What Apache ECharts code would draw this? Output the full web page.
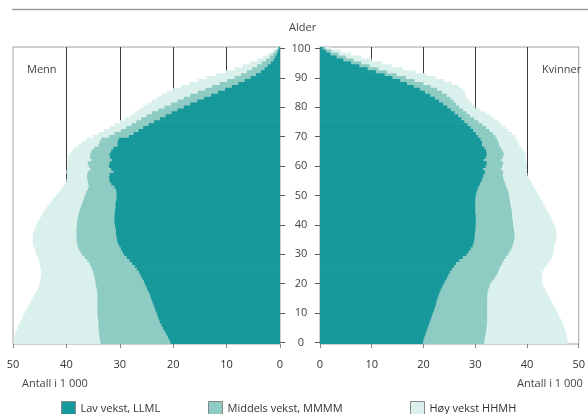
<!DOCTYPE html>
<html><head><meta charset="utf-8">
<script src="https://cdn.jsdelivr.net/npm/echarts@6/dist/echarts.min.js"></script>
<style>html,body{margin:0;padding:0;background:#fff}#c{width:588px;height:414px}</style>
</head><body><div id="c"></div>
<script>
// Ages 0..100 (index = age)
const ages = [];
for (let a = 0; a <= 100; a++) ages.push(String(a));
const xTicks = [0, 10, 20, 30, 40, 50];
const seriesNames = ['Lav vekst, LLML', 'Middels vekst, MMMM', 'Høy vekst HHMH'];

// Men (1 000), age 0..100
const menLow = [
20.5,20.7,21.0,21.3,21.6,21.9,22.2,22.5,22.7,22.9,
23.1,23.3,23.5,23.7,23.9,24.1,24.3,24.5,24.8,25.0,
25.3,25.5,25.8,26.1,26.4,26.8,27.2,27.7,28.2,28.7,
29.2,29.5,29.8,30.1,30.4,30.5,30.6,30.7,30.7,30.8,
30.9,31.0,31.0,31.0,30.9,30.9,30.8,30.8,30.7,30.6,
30.6,30.6,30.7,31.0,31.6,31.9,32.0,31.9,31.2,31.6,
32.0,31.9,31.4,31.8,31.9,31.6,31.2,30.4,30.4,30.2,
28.3,27.4,26.5,25.6,24.6,23.6,22.5,21.4,20.3,19.2,
18.0,16.8,15.5,14.2,12.9,11.6,10.3,9.0,7.8,6.6,
5.5,4.5,3.6,2.9,2.3,1.7,1.2,0.9,0.6,0.4,0.2];
const menMid = [
33.6,33.7,33.8,33.9,33.9,34.0,34.0,34.0,34.1,34.1,
34.2,34.2,34.2,34.2,34.2,34.2,34.2,34.2,34.3,34.4,
34.5,34.6,34.7,34.8,35.0,35.2,35.4,35.7,36.1,36.6,
37.1,37.4,37.7,37.9,38.0,38.1,38.1,38.1,38.1,38.1,
38.0,38.0,37.9,37.8,37.6,37.5,37.3,37.1,36.9,36.7,
36.5,36.3,36.0,35.8,35.9,36.0,36.1,36.1,35.9,35.5,
35.8,36.0,35.3,35.6,35.5,35.3,34.8,34.0,33.8,33.5,
32.0,31.0,29.8,28.8,27.8,26.9,26.0,25.0,24.0,22.8,
21.6,20.4,19.2,18.0,16.8,15.4,14.0,12.7,11.3,9.9,
8.5,7.3,6.2,5.2,4.3,3.4,2.6,1.9,1.3,0.8,0.4];
const menHigh = [
49.9,49.9,49.8,49.6,49.4,49.1,48.9,48.6,48.3,48.1,
47.8,47.5,47.2,46.9,46.6,46.3,46.0,45.7,45.4,45.2,
45.0,44.9,44.8,44.7,44.7,44.8,44.9,45.0,45.2,45.4,
45.6,45.8,46.0,46.2,46.3,46.3,46.3,46.2,46.0,45.8,
45.6,45.3,45.0,44.7,44.4,44.0,43.6,43.2,42.8,42.4,
41.9,41.4,41.0,40.6,40.3,40.0,39.9,39.9,40.0,39.9,
39.8,39.8,39.6,39.7,39.4,39.0,38.5,37.8,37.0,36.2,
35.0,34.0,33.0,32.0,31.0,30.0,29.0,28.0,27.2,26.4,
25.6,24.8,24.0,23.1,22.2,21.2,20.0,18.5,17.0,15.4,
13.8,12.0,10.2,8.5,7.0,5.6,4.3,3.2,2.2,1.3,0.6];

// Women (1 000), age 0..100
const womenLow = [
19.9,20.0,20.2,20.4,20.6,20.8,21.0,21.2,21.4,21.6,
21.8,22.0,22.2,22.4,22.5,22.7,22.9,23.1,23.3,23.6,
23.9,24.2,24.5,24.8,25.1,25.5,25.9,26.3,26.9,27.6,
28.3,28.7,29.1,29.5,29.7,29.8,29.9,29.9,30.0,30.0,
30.1,30.1,30.1,30.1,30.0,30.0,30.0,30.0,30.0,30.0,
30.1,30.2,30.4,30.6,30.9,31.2,31.4,31.6,31.9,31.5,
32.0,32.2,31.6,32.0,32.2,32.1,31.8,31.3,31.3,31.0,
30.5,30.1,29.6,29.1,28.5,27.9,27.3,26.7,26.0,25.3,
24.6,23.8,23.0,22.2,21.3,20.3,19.3,18.1,16.8,15.5,
14.0,12.5,10.8,9.2,7.6,6.0,4.5,3.2,2.0,1.2,0.5];
const womenMid = [
31.7,31.8,31.9,32.0,32.1,32.2,32.2,32.3,32.3,32.3,
32.3,32.3,32.3,32.3,32.3,32.3,32.3,32.4,32.5,32.7,
32.9,33.3,33.7,34.1,34.4,34.6,34.9,35.2,35.5,35.9,
36.3,36.6,37.0,37.2,37.4,37.5,37.6,37.6,37.5,37.4,
37.3,37.3,37.2,37.1,37.1,37.0,36.9,36.8,36.7,36.6,
36.5,36.4,36.2,36.0,35.8,35.6,35.4,35.3,35.4,35.0,
35.2,35.4,35.0,35.3,35.5,35.3,35.0,34.6,34.5,34.2,
33.9,33.4,32.8,32.1,31.4,30.6,29.8,29.0,28.3,27.6,
26.9,26.3,25.8,25.2,24.5,23.6,22.6,21.4,20.0,18.3,
16.6,14.8,13.0,11.3,9.6,8.0,6.5,5.0,3.6,2.2,1.0];
const womenHigh = [
47.8,47.8,47.7,47.6,47.4,47.2,47.0,46.8,46.5,46.2,
45.9,45.6,45.3,45.0,44.7,44.4,44.1,43.8,43.5,43.2,
43.0,42.9,42.9,42.9,43.0,43.3,43.7,44.1,44.5,44.8,
45.0,45.1,45.2,45.3,45.4,45.6,45.7,45.7,45.6,45.5,
45.3,45.0,44.7,44.4,44.1,43.8,43.5,43.2,42.9,42.6,
42.3,42.0,41.6,41.3,40.9,40.6,40.3,40.1,40.0,39.9,
40.0,40.0,39.7,39.8,39.7,39.4,39.0,38.5,38.3,38.0,
37.6,37.1,36.5,35.8,35.1,34.5,33.8,33.0,32.0,31.0,
30.0,29.4,28.8,28.3,28.2,28.0,27.5,26.8,25.5,24.0,
22.5,20.5,18.5,16.0,14.0,12.0,10.0,8.0,6.0,4.0,2.0];

const colors = ['#17989a', '#8ecbc3', '#daf0ec'];
const font = 'Open Sans';
const tickEvery10 = function (i) { return i % 10 === 0; };

const chart = echarts.init(document.getElementById('c'), null, {renderer: 'canvas'});

function bar(name, data, axisIdx, color) {
  return {
    name: name, type: 'bar', xAxisIndex: axisIdx, yAxisIndex: axisIdx,
    data: data, barGap: '-100%', barWidth: 3.6,
    itemStyle: {color: color},
    emphasis: {disabled: true}, animation: false, silent: true
  };
}

const xAxisCommon = {
  type: 'value', min: xTicks[0], max: xTicks[xTicks.length - 1], interval: 10,
  axisLine: {show: false},
  axisTick: {show: true, length: 4, lineStyle: {color: '#888'}},
  axisLabel: {color: '#333', fontSize: 11, fontFamily: font, margin: 15},
  splitLine: {show: true, showMinLine: false, showMaxLine: false, lineStyle: {color: '#3a3a3a', width: 1}}
};

const option = {
  animation: false,
  backgroundColor: '#fff',
  grid: [
    {left: 13, width: 267, top: 47, height: 297, show: true, borderColor: '#a0a0a0', borderWidth: 1, backgroundColor: 'transparent'},
    {left: 320, width: 266, top: 47, height: 297, show: true, borderColor: '#a0a0a0', borderWidth: 1, backgroundColor: 'transparent'}
  ],
  xAxis: [
    Object.assign({}, xAxisCommon, {gridIndex: 0, inverse: true}),
    Object.assign({}, xAxisCommon, {gridIndex: 1})
  ],
  yAxis: [
    {type: 'category', gridIndex: 0, data: ages, position: 'right',
     axisLine: {show: false},
     axisTick: {show: true, interval: tickEvery10, alignWithLabel: true, length: 5, lineStyle: {color: '#555'}},
     axisLabel: {interval: tickEvery10, align: 'center', margin: 21, color: '#444', fontSize: 11, fontFamily: font},
     splitLine: {show: false}},
    {type: 'category', gridIndex: 1, data: ages, position: 'left',
     axisLine: {show: false},
     axisTick: {show: true, interval: tickEvery10, alignWithLabel: true, length: 5, lineStyle: {color: '#555'}},
     axisLabel: {show: false},
     splitLine: {show: false}}
  ],
  legend: [
    {data: [seriesNames[0]], left: 61, top: 401},
    {data: [seriesNames[1]], left: 208, top: 401},
    {data: [seriesNames[2]], left: 410, top: 401}
  ].map(function (l) {
    return Object.assign(l, {itemWidth: 14, itemHeight: 14, itemGap: 6, padding: 0, icon: 'rect',
      itemStyle: {borderColor: '#888', borderWidth: 1},
      textStyle: {color: '#333', fontSize: 11, fontFamily: font}, selectedMode: false});
  }),
  graphic: [
    {type: 'line', shape: {x1: 12, y1: 9.5, x2: 588, y2: 9.5}, style: {stroke: '#9a9a9a', lineWidth: 1.5}},
    {type: 'text', left: 289, top: 22, style: {text: 'Alder', fill: '#444', font: '11px "Open Sans"'}},
    {type: 'text', left: 27, top: 64, style: {text: 'Menn', fill: '#444', font: '11px "Open Sans"'}},
    {type: 'text', left: 542, top: 64, style: {text: 'Kvinner', fill: '#444', font: '11px "Open Sans"'}},
    {type: 'text', left: 22, top: 378, style: {text: 'Antall i 1 000', fill: '#444', font: '11px "Open Sans"'}},
    {type: 'text', left: 517, top: 378, style: {text: 'Antall i 1 000', fill: '#444', font: '11px "Open Sans"'}}
  ],
  series: [
    bar(seriesNames[2], menHigh, 0, colors[2]),
    bar(seriesNames[1], menMid, 0, colors[1]),
    bar(seriesNames[0], menLow, 0, colors[0]),
    bar(seriesNames[2], womenHigh, 1, colors[2]),
    bar(seriesNames[1], womenMid, 1, colors[1]),
    bar(seriesNames[0], womenLow, 1, colors[0])
  ]
};
chart.setOption(option);
</script>
</body></html>
